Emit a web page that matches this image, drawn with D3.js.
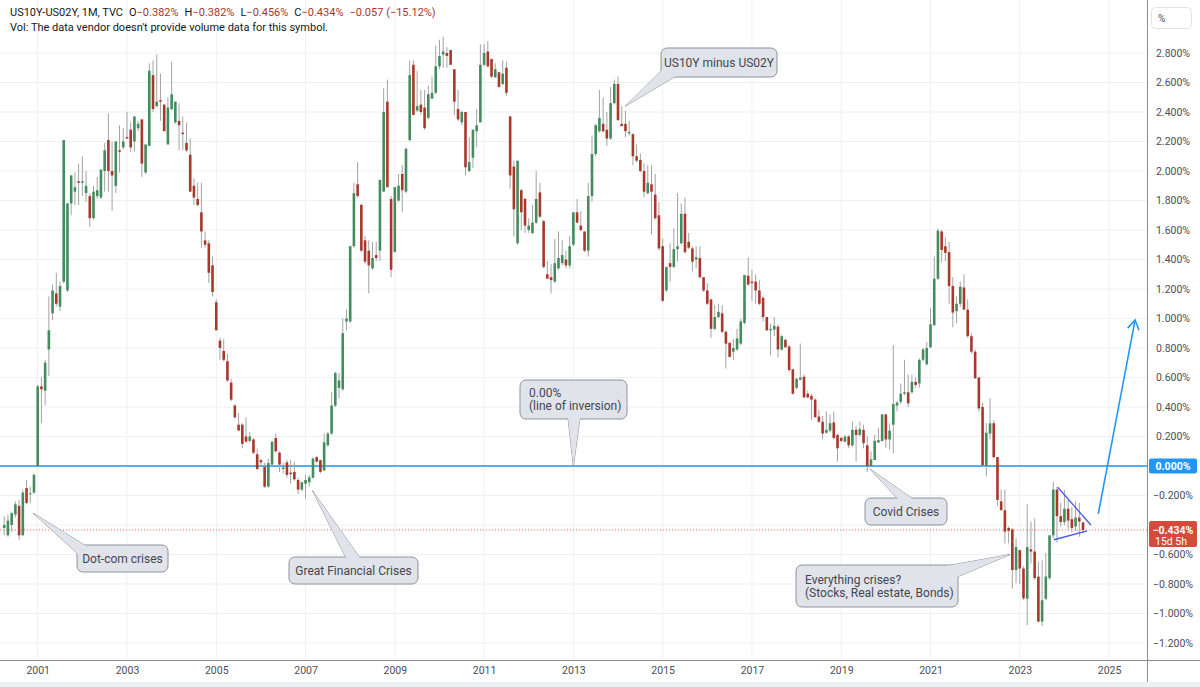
<!DOCTYPE html>
<html>
<head>
<meta charset="utf-8">
<title>US10Y-US02Y</title>
<script src="https://d3js.org/d3.v7.min.js"></script>
<style>
  body { margin: 0; background: #fff; }
  svg { display: block; font-family: Roboto, "Noto Sans", sans-serif; }
</style>
</head>
<body>
<svg width="1200" height="687"></svg>
<script>
// monthly candles, the first one is Apr 2000 (months counted from Jan 2000)
var firstMonth = 3;

var open = [
  -0.42,-0.47,-0.40,-0.33,-0.27,-0.47,-0.15,-0.19,-0.18,                  // 2000
  0.00,0.54,0.51,0.79,1.035,1.17,1.08,1.25,1.19,1.78,1.86,1.93,           // 2001
  1.92,1.85,1.83,1.68,1.83,1.82,2.00,2.21,2.00,1.90,2.14,2.16,            // 2002
  2.23,2.28,2.20,2.29,2.35,1.99,2.17,2.65,2.44,2.48,2.45,2.18,            // 2003
  2.42,2.33,2.34,2.26,2.19,2.11,1.90,1.81,1.72,1.53,1.51,1.36,            // 2004
  1.11,0.85,0.78,0.71,0.565,0.41,0.28,0.28,0.20,0.17,0.18,0.08,           // 2005
  0.04,-0.005,-0.14,0.01,0.19,0.09,-0.02,0.025,-0.045,-0.04,-0.095,-0.16, // 2006
  -0.12,-0.11,-0.08,0.06,0.04,-0.03,0.14,0.22,0.41,0.53,0.52,0.98,        // 2007
  0.98,1.49,1.91,1.77,1.53,1.46,1.34,1.43,1.46,1.86,2.47,1.81,            // 2008
  1.45,1.80,1.98,1.86,2.21,2.72,2.41,2.45,2.43,2.36,2.49,2.53,            // 2009
  2.71,2.79,2.80,2.82,2.69,2.42,2.33,2.40,2.00,2.09,2.27,2.33,            // 2010
  2.72,2.81,2.76,2.635,2.67,2.59,2.70,2.37,2.03,1.51,1.87,1.81,           // 2011
  1.60,1.58,1.65,1.855,1.66,1.30,1.28,1.25,1.34,1.375,1.40,1.36,          // 2012
  1.50,1.72,1.63,1.59,1.46,1.83,2.115,2.27,2.32,2.28,2.22,2.46,           // 2013
  2.59,2.32,2.32,2.255,2.25,2.10,2.075,2.00,1.85,1.91,1.84,1.70,          // 2014
  1.49,1.19,1.375,1.35,1.47,1.51,1.71,1.52,1.475,1.40,1.41,1.28,          // 2015
  1.19,1.13,0.93,1.01,1.035,0.91,0.835,0.775,0.79,0.83,0.97,1.29,         // 2016
  1.25,1.25,1.19,1.14,1.01,0.92,0.925,0.945,0.79,0.855,0.81,0.655,        // 2017
  0.53,0.585,0.605,0.49,0.475,0.45,0.335,0.30,0.225,0.24,0.295,0.21,      // 2018
  0.19,0.165,0.20,0.14,0.245,0.21,0.245,0.14,0.00,0.04,0.16,0.17,         // 2019
  0.35,0.18,0.28,0.41,0.435,0.49,0.50,0.50,0.57,0.56,0.72,0.69,           // 2020
  0.805,0.955,1.27,1.59,1.49,1.45,1.22,1.05,1.10,1.21,1.06,0.88,          // 2021
  0.775,0.60,0.40,0.00,0.22,0.29,0.06,-0.24,-0.30,-0.42,-0.43,-0.705,     // 2022
  -0.57,-0.695,-0.90,-0.565,-0.58,-0.75,-1.055,-0.90,-0.76,-0.47,-0.16,-0.34, // 2023
  -0.38,-0.29,-0.36,-0.41,-0.35,-0.382                                    // 2024
];
var high = [
  -0.34,-0.33,-0.31,-0.24,-0.23,-0.16,-0.095,-0.14,-0.05,
  0.55,0.60,0.72,1.15,1.23,1.31,1.25,2.21,1.78,1.97,1.99,2.05,
  2.10,2.00,1.85,1.90,1.96,2.01,2.19,2.39,2.20,2.20,2.31,2.29,
  2.40,2.33,2.37,2.34,2.35,2.18,2.73,2.75,2.79,2.66,2.45,2.50,
  2.74,2.47,2.46,2.37,2.33,2.22,1.95,1.92,1.92,1.59,1.53,1.42,
  1.13,0.87,0.86,0.76,0.59,0.42,0.36,0.29,0.33,0.23,0.19,0.12,
  0.05,0.02,0.05,0.165,0.22,0.10,0.02,0.04,0.04,0.03,-0.08,-0.11,
  -0.06,-0.06,0.06,0.07,0.04,0.22,0.23,0.50,0.64,0.63,1.00,1.06,
  1.49,1.92,2.06,1.78,1.56,1.53,1.52,1.52,1.94,2.56,2.62,1.83,
  1.89,1.98,2.04,2.16,2.75,2.75,2.68,2.55,2.55,2.58,2.64,2.85,
  2.89,2.91,2.84,2.82,2.69,2.55,2.41,2.40,2.23,2.28,2.42,2.86,
  2.86,2.88,2.76,2.73,2.67,2.75,2.74,2.37,2.07,2.07,1.88,1.82,
  1.68,1.77,2.00,1.92,1.67,1.39,1.37,1.54,1.59,1.53,1.46,1.56,
  1.72,1.81,1.73,1.59,1.92,2.24,2.32,2.55,2.50,2.40,2.57,2.62,
  2.64,2.44,2.41,2.34,2.255,2.18,2.12,2.05,2.04,2.04,1.98,1.79,
  1.54,1.35,1.51,1.61,1.85,1.78,1.82,1.58,1.49,1.49,1.49,1.28,
  1.24,1.13,1.09,1.10,1.09,0.92,0.84,0.86,0.93,1.00,1.295,1.415,
  1.33,1.30,1.26,1.15,1.01,0.965,1.01,0.96,0.89,0.865,0.82,0.66,
  0.60,0.83,0.62,0.51,0.49,0.46,0.38,0.34,0.37,0.35,0.37,0.22,
  0.20,0.21,0.21,0.30,0.27,0.30,0.28,0.20,0.10,0.21,0.26,0.35,
  0.35,0.29,0.82,0.44,0.56,0.72,0.62,0.62,0.60,0.73,0.80,0.84,
  1.07,1.42,1.61,1.60,1.55,1.52,1.28,1.15,1.25,1.30,1.13,0.90,
  0.79,0.60,0.43,0.29,0.46,0.31,0.06,-0.16,-0.16,-0.41,-0.42,-0.49,
  -0.57,-0.68,-0.26,-0.377,-0.355,-0.65,-0.64,-0.59,-0.47,-0.106,-0.14,-0.25,
  -0.163,-0.23,-0.28,-0.24,-0.25,-0.382
];
var low = [
  -0.47,-0.48,-0.445,-0.35,-0.50,-0.47,-0.26,-0.25,-0.19,
  0.00,0.29,0.41,0.61,0.99,1.08,1.05,1.24,1.18,1.70,1.77,1.77,
  1.83,1.79,1.62,1.67,1.81,1.81,1.86,1.86,1.73,1.85,1.99,2.15,
  2.22,2.13,2.13,2.27,1.96,1.98,2.17,2.40,2.43,2.34,2.27,2.18,
  2.41,2.32,2.14,2.14,2.13,1.86,1.77,1.76,1.48,1.48,1.24,1.15,
  0.92,0.72,0.71,0.57,0.44,0.32,0.24,0.12,0.16,0.16,0.08,-0.03,
  0.00,-0.15,-0.145,0.00,0.09,-0.04,-0.05,-0.08,-0.12,-0.10,-0.19,-0.17,
  -0.22,-0.14,-0.085,0.02,-0.05,-0.035,0.13,0.21,0.40,0.46,0.51,0.92,
  0.97,1.48,1.82,1.45,1.37,1.17,1.33,1.39,1.39,1.86,1.89,1.28,
  1.45,1.79,1.72,1.85,2.20,2.38,2.40,2.38,2.28,2.35,2.49,2.52,
  2.69,2.70,2.70,2.72,2.38,2.34,2.31,1.97,1.99,2.02,2.16,2.33,
  2.71,2.70,2.63,2.63,2.565,2.58,2.51,1.88,1.555,1.50,1.60,1.58,
  1.58,1.57,1.64,1.68,1.34,1.27,1.17,1.24,1.33,1.36,1.34,1.34,
  1.49,1.645,1.59,1.45,1.42,1.79,2.10,2.26,2.26,2.17,2.21,2.45,
  2.34,2.30,2.23,2.24,2.04,2.06,1.99,1.82,1.84,1.57,1.67,1.46,
  1.11,1.18,1.25,1.34,1.385,1.50,1.44,1.47,1.32,1.34,1.27,1.18,
  1.09,0.87,0.92,1.00,0.90,0.66,0.735,0.72,0.78,0.82,0.96,1.225,
  1.12,1.10,1.09,0.98,0.915,0.75,0.88,0.735,0.78,0.80,0.64,0.485,
  0.52,0.58,0.46,0.46,0.31,0.33,0.29,0.18,0.22,0.23,0.18,0.03,
  0.16,0.16,0.12,0.13,0.03,0.20,0.12,-0.04,-0.005,0.04,0.155,0.165,
  0.12,0.11,0.086,0.37,0.42,0.48,0.40,0.49,0.53,0.53,0.71,0.68,
  0.80,0.95,1.26,1.38,1.39,1.10,0.94,0.97,1.08,1.06,0.87,0.76,
  0.59,0.37,0.00,-0.07,0.18,0.05,-0.27,-0.30,-0.525,-0.525,-0.83,-0.795,
  -0.80,-0.91,-1.078,-0.66,-0.773,-1.06,-1.085,-0.91,-0.77,-0.49,-0.52,-0.41,
  -0.40,-0.43,-0.45,-0.44,-0.48,-0.456
];
var close = [
  -0.40,-0.37,-0.32,-0.26,-0.47,-0.18,-0.25,-0.185,-0.06,
  0.54,0.52,0.70,0.92,1.19,1.10,1.22,2.21,1.78,1.97,1.89,1.92,
  1.93,1.90,1.68,1.86,1.87,2.01,2.14,2.00,1.97,2.20,2.13,2.20,
  2.22,2.16,2.37,2.32,2.05,2.18,2.68,2.42,2.47,2.47,2.27,2.43,
  2.52,2.47,2.31,2.25,2.14,1.86,1.82,1.77,1.59,1.50,1.31,1.18,
  0.92,0.80,0.72,0.58,0.45,0.33,0.24,0.15,0.165,0.20,0.09,-0.02,
  0.025,-0.14,0.02,0.165,0.10,0.01,-0.01,-0.06,-0.055,-0.09,-0.16,-0.11,
  -0.095,-0.077,0.05,0.03,-0.04,0.16,0.22,0.41,0.63,0.58,0.90,1.00,
  1.49,1.85,1.83,1.46,1.385,1.36,1.41,1.41,1.94,2.40,1.89,1.33,
  1.89,1.90,1.87,2.15,2.65,2.38,2.44,2.40,2.29,2.52,2.53,2.71,
  2.78,2.81,2.78,2.72,2.47,2.35,2.40,2.025,2.06,2.28,2.31,2.72,
  2.80,2.71,2.64,2.69,2.57,2.66,2.53,1.97,1.74,2.07,1.72,1.63,
  1.63,1.65,1.81,1.69,1.35,1.27,1.26,1.375,1.41,1.43,1.36,1.49,
  1.72,1.65,1.60,1.46,1.83,2.115,2.31,2.36,2.27,2.22,2.46,2.59,
  2.345,2.305,2.27,2.265,2.10,2.07,2.00,1.86,1.92,1.86,1.68,1.475,
  1.12,1.35,1.35,1.47,1.49,1.71,1.45,1.48,1.385,1.415,1.28,1.19,
  1.10,0.93,1.01,1.045,0.91,0.83,0.74,0.80,0.865,0.98,1.295,1.23,
  1.24,1.19,1.10,1.01,0.92,0.93,0.95,0.79,0.88,0.805,0.65,0.49,
  0.59,0.60,0.465,0.465,0.45,0.33,0.30,0.22,0.245,0.29,0.19,0.12,
  0.17,0.20,0.14,0.245,0.21,0.25,0.155,0.00,0.045,0.17,0.175,0.35,
  0.18,0.24,0.42,0.43,0.49,0.50,0.425,0.57,0.55,0.72,0.79,0.80,
  0.96,1.27,1.595,1.465,1.445,1.22,1.04,1.10,1.215,1.06,0.88,0.775,
  0.595,0.39,0.005,0.225,0.29,0.06,-0.23,-0.30,-0.445,-0.44,-0.705,-0.55,
  -0.695,-0.897,-0.55,-0.58,-0.76,-1.055,-0.91,-0.75,-0.47,-0.16,-0.34,-0.38,
  -0.29,-0.37,-0.42,-0.35,-0.377,-0.434
];

var priceTicks = [-1.2,-1.0,-0.8,-0.6,-0.4,-0.2,0,0.2,0.4,0.6,0.8,1.0,1.2,1.4,1.6,1.8,2.0,2.2,2.4,2.6,2.8];
var yearTicks = [2001,2003,2005,2007,2009,2011,2013,2015,2017,2019,2021,2023,2025];
var lastClose = close[close.length - 1];
var countdown = "15d 5h";

// drawings: [month index from Jan 2000, value]
var wedgeTop = [[286.2, -0.144], [295.1, -0.40]];
var wedgeBottom = [[285.2, -0.50], [294.1, -0.44]];
var bigArrow = [[297.1, -0.325], [307, 0.99]];

var width = 1200, height = 687;
var plotRight = 1147, plotBottom = 660;

var x = d3.scaleLinear().domain([12, 24]).range([37.7, 37.7 + 44.64]);
var y = d3.scaleLinear().domain([0, 2.8]).range([466, 53]);

var svg = d3.select("svg");

var fmt = function(v) {
  var s = Math.abs(v).toFixed(3) + "%";
  return (v < -1e-9 ? "\u2212" : "") + s;
};

svg.append("defs").append("clipPath").attr("id", "plot")
  .append("rect").attr("x", 0).attr("y", 0).attr("width", plotRight).attr("height", plotBottom);

// grid
var grid = svg.append("g");
grid.selectAll(".hg").data(priceTicks).enter().append("line")
  .attr("x1", 0).attr("x2", plotRight)
  .attr("y1", function(d) { return y(d); }).attr("y2", function(d) { return y(d); })
  .attr("stroke", "#eef0f3").attr("stroke-width", 1);
grid.selectAll(".vg").data(yearTicks).enter().append("line")
  .attr("x1", function(d) { return x((d - 2000) * 12); })
  .attr("x2", function(d) { return x((d - 2000) * 12); })
  .attr("y1", 0).attr("y2", plotBottom)
  .attr("stroke", "#eef0f3").attr("stroke-width", 1);

var plot = svg.append("g").attr("clip-path", "url(#plot)");

// zero line and last price line
plot.append("line")
  .attr("x1", 0).attr("x2", plotRight).attr("y1", y(0)).attr("y2", y(0))
  .attr("stroke", "#2196f3").attr("stroke-width", 1.6);
plot.append("line")
  .attr("x1", 0).attr("x2", plotRight).attr("y1", y(lastClose)).attr("y2", y(lastClose))
  .attr("stroke", "#e4685c").attr("stroke-width", 1).attr("stroke-dasharray", "1,2");

// candles
var candles = d3.range(close.length).map(function(i) {
  return { t: firstMonth + i, o: open[i], h: high[i], l: low[i], c: close[i] };
});
var bodyW = 2.6;
var cg = plot.append("g");
cg.selectAll(".wick").data(candles).enter().append("line")
  .attr("x1", function(d) { return x(d.t); }).attr("x2", function(d) { return x(d.t); })
  .attr("y1", function(d) { return y(d.h); }).attr("y2", function(d) { return y(d.l); })
  .attr("stroke", "#a3a3a3").attr("stroke-width", 1);
cg.selectAll(".body").data(candles).enter().append("rect")
  .attr("x", function(d) { return x(d.t) - bodyW / 2; })
  .attr("width", bodyW)
  .attr("y", function(d) { return y(Math.max(d.o, d.c)); })
  .attr("height", function(d) { return Math.max(1, Math.abs(y(d.o) - y(d.c))); })
  .attr("fill", function(d) { return d.c >= d.o ? "#448b5d" : "#a8382c"; });

// wedge lines and arrow
var line = d3.line().x(function(d) { return x(d[0]); }).y(function(d) { return y(d[1]); });
plot.append("path").attr("d", line(wedgeTop)).attr("stroke", "#4a55f0").attr("stroke-width", 1.3).attr("fill", "none");
plot.append("path").attr("d", line(wedgeBottom)).attr("stroke", "#4a55f0").attr("stroke-width", 1.3).attr("fill", "none");
plot.append("path").attr("d", line(bigArrow)).attr("stroke", "#2196f3").attr("stroke-width", 1.6).attr("fill", "none");
(function() {
  var p0 = [x(bigArrow[0][0]), y(bigArrow[0][1])];
  var p1 = [x(bigArrow[1][0]), y(bigArrow[1][1])];
  var ang = Math.atan2(p1[1] - p0[1], p1[0] - p0[0]);
  var len = 11, spread = 0.55;
  var a = [p1[0] - len * Math.cos(ang - spread), p1[1] - len * Math.sin(ang - spread)];
  var b = [p1[0] - len * Math.cos(ang + spread), p1[1] - len * Math.sin(ang + spread)];
  plot.append("path").attr("d", "M" + a + "L" + p1 + "L" + b)
    .attr("stroke", "#2196f3").attr("stroke-width", 1.6).attr("fill", "none");
})();

// callouts
function callout(tip, box, base, lines, align) {
  var g = svg.append("g");
  var tp = [x(tip[0]), y(tip[1])];
  var tri = "M" + base[0] + "L" + tp + "L" + base[1] + "Z";
  g.append("path").attr("d", tri).attr("fill", "#e1e3ea").attr("stroke", "#8f929b").attr("stroke-width", 1);
  g.append("rect").attr("x", box[0]).attr("y", box[1])
    .attr("width", box[2] - box[0]).attr("height", box[3] - box[1])
    .attr("rx", 6).attr("fill", "#e1e3ea").attr("stroke", "#8f929b").attr("stroke-width", 1);
  g.append("path").attr("d", tri).attr("fill", "#e1e3ea").attr("stroke", "none");
  var cx = align === "start" ? box[0] + 9 : (box[0] + box[2]) / 2;
  var cy = (box[1] + box[3]) / 2 - (lines.length - 1) * 6.5;
  lines.forEach(function(s, i) {
    g.append("text").attr("x", cx).attr("y", cy + i * 13)
      .attr("dy", "0.35em").attr("text-anchor", align)
      .attr("font-size", 12).attr("fill", "#434651").text(s);
  });
}

callout([10.8, -0.32], [77, 545, 168, 572], [[86, 546], [78, 554]], ["Dot-com crises"], "middle");
callout([85.9, -0.168], [289, 557, 418, 584], [[346, 558], [360, 558]], ["Great Financial Crises"], "middle");
callout([156, 0], [520, 380, 627, 419], [[568, 418], [580, 418]], ["0.00%", "(line of inversion)"], "start");
callout([170, 2.44], [661, 48, 777, 77], [[662, 70], [676, 76]], ["US10Y minus US02Y"], "middle");
callout([235.7, -0.02], [865, 498, 947, 525], [[898, 499], [913, 499]], ["Covid Crises"], "middle");
callout([273.4, -0.60], [796, 565, 958, 607], [[946, 566], [957, 577]], ["Everything crises?", "(Stocks, Real estate, Bonds)"], "start");

// axes frame
svg.append("line").attr("x1", 0).attr("x2", width).attr("y1", plotBottom + 0.5).attr("y2", plotBottom + 0.5)
  .attr("stroke", "#8a8d96").attr("stroke-width", 1);
svg.append("line").attr("x1", plotRight + 0.5).attr("x2", plotRight + 0.5).attr("y1", 0).attr("y2", height)
  .attr("stroke", "#8a8d96").attr("stroke-width", 1);
svg.append("rect").attr("x", 0).attr("y", 682).attr("width", width).attr("height", 5).attr("fill", "#eef0f4");

// price axis (the label under the last-price tag is covered by it, as on the reference)
var yAxis = d3.axisRight(y).tickValues(priceTicks).tickSize(0).tickPadding(0).tickFormat(fmt);
var ya = svg.append("g").attr("transform", "translate(1173,0)").call(yAxis);
ya.select(".domain").remove();
ya.selectAll("text").attr("text-anchor", "middle").attr("font-size", 10.5)
  .attr("font-family", "Roboto, sans-serif").attr("fill", "#4a4d57");

// time axis
var xAxis = d3.axisBottom(x).tickValues(yearTicks.map(function(d) { return (d - 2000) * 12; }))
  .tickSize(0).tickPadding(0).tickFormat(function(d) { return String(2000 + d / 12); });
var xa = svg.append("g").attr("transform", "translate(0,667)").call(xAxis);
xa.select(".domain").remove();
xa.selectAll("text").attr("font-size", 10.5).attr("font-family", "Roboto, sans-serif").attr("fill", "#4a4d57");

// price labels
svg.append("rect").attr("x", 1149).attr("y", y(0) - 7.5).attr("width", 48).attr("height", 15)
  .attr("rx", 2).attr("fill", "#2196f3");
svg.append("text").attr("x", 1173).attr("y", y(0)).attr("dy", "0.35em").attr("text-anchor", "middle")
  .attr("font-size", 10.5).attr("font-weight", "bold").attr("fill", "#fff").text(fmt(0));
svg.append("rect").attr("x", 1149).attr("y", y(lastClose) - 9).attr("width", 48).attr("height", 26)
  .attr("rx", 2).attr("fill", "#d24b3d");
svg.append("text").attr("x", 1173).attr("y", y(lastClose)).attr("dy", "0.35em").attr("text-anchor", "middle")
  .attr("font-size", 10.5).attr("font-weight", "bold").attr("fill", "#fff").text(fmt(lastClose));
svg.append("text").attr("x", 1155).attr("y", y(lastClose) + 11).attr("dy", "0.35em").attr("text-anchor", "start")
  .attr("font-size", 10.5).attr("fill", "#fff").text(countdown);

// % box
svg.append("rect").attr("x", 1151.5).attr("y", 7.5).attr("width", 40).attr("height", 21)
  .attr("rx", 4).attr("fill", "#fff").attr("stroke", "#e0e3eb");
svg.append("text").attr("x", 1158).attr("y", 18).attr("dy", "0.35em").attr("font-size", 10)
  .attr("fill", "#4a4d57").text("%");

// header
var last = candles[candles.length - 1];
var prev = candles[candles.length - 2];
var chg = last.c - prev.c;
var red = "#a8362a";
var head = svg.append("text").attr("x", 10).attr("y", 16).attr("font-size", 11).attr("fill", "#131722");
head.append("tspan").text("US10Y-US02Y, 1M, TVC");
[["O", last.o], ["H", last.h], ["L", last.l], ["C", last.c]].forEach(function(p) {
  head.append("tspan").attr("dx", 6).text(p[0]);
  head.append("tspan").attr("fill", red).text(fmt(p[1]));
});
head.append("tspan").attr("dx", 6).attr("fill", red)
  .text(fmt(chg).replace("%", "") + " (" + "\u2212" + Math.abs(chg / prev.c * 100).toFixed(2) + "%)");
svg.append("text").attr("x", 10).attr("y", 31).attr("font-size", 11).attr("fill", "#131722")
  .text("Vol: The data vendor doesn't provide volume data for this symbol.");
</script>
</body>
</html>
